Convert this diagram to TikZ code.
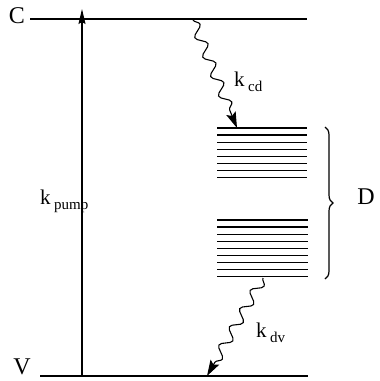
\documentclass[tikz,border=0pt]{standalone}
\usepackage{fontspec}
\setmainfont{Liberation Serif}
\usetikzlibrary{arrows.meta,decorations.pathmorphing,decorations.pathreplacing}
\tikzset{
  level/.style={line width=2pt},
  sublevel/.style={line width=1.3pt},
  pump/.style={-{Stealth[length=15pt, width=7pt, inset=2pt]}, line width=1.2pt},
  decay/.style={-{Stealth[length=16pt, width=10pt, inset=3pt]}, line width=1.1pt,
    decorate, decoration={snake, amplitude=5pt, segment length=21pt, post length=15pt}},
  lbl/.style={font=\fontsize{24}{26}\selectfont, inner sep=0pt},
  rate/.style={font=\fontsize{21}{23}\selectfont, inner sep=0pt, anchor=west}
}
\newcommand{\rsub}[1]{\,\raisebox{-0.5ex}{\fontsize{15}{16}\selectfont #1}}

\begin{document}
\begin{tikzpicture}[x=1pt, y=-1pt]
  \useasboundingbox (0,0) rectangle (380,381);

  % levels C and V
  \coordinate (c-w) at (30,19);  \coordinate (c-e) at (307,19);
  \coordinate (v-w) at (40,376); \coordinate (v-e) at (308,376);
  \draw[level] (c-w) -- (c-e);
  \draw[level] (v-w) -- (v-e);
  \node[lbl] (c-lab) at (17,16) {C};
  \node[lbl] (v-lab) at (22,367) {V};

  % pump
  \coordinate (pump-a) at (82,376);
  \coordinate (pump-b) at (82,9);
  \draw[pump] (pump-a) -- (pump-b);
  \node[rate] (kpump) at (40,201) {k\rsub{pump}};

  % band D
  \foreach \y in {128,135.1,...,178}
    \draw[sublevel] (217,\y) -- (307,\y);
  \foreach \y in {220,227.1,...,277}
    \draw[sublevel] (217,\y) -- (308,\y);
  \coordinate (d-top) at (325,127);
  \coordinate (d-bot) at (325,279);
  \draw[line width=1.2pt, decorate, decoration={brace, amplitude=8pt}] (d-top) -- (d-bot);
  \node[lbl] (d-lab) at (366,197) {D};

  % relaxation C -> D -> V
  \coordinate (cd-a) at (193,20);
  \coordinate (cd-b) at (237,128);
  \draw[decay] (cd-a) -- (cd-b);
  \node[rate] (kcd) at (234,82) {k\rsub{cd}};

  \coordinate (dv-a) at (263,278);
  \coordinate (dv-b) at (207,376);
  \draw[decay] (dv-a) -- (dv-b);
  \node[rate] (kdv) at (256,333) {k\rsub{dv}};
\end{tikzpicture}
\end{document}
